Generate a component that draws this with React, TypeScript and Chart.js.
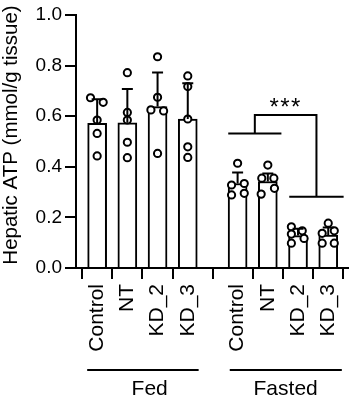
import React, { useEffect, useRef } from "react";
import { Chart, registerables } from "chart.js";

Chart.register(...registerables);

const FONT = '"Liberation Sans", Arial, sans-serif';

// Categories and their positions on the x axis (Fed group, gap, Fasted group)
const categories = ["Control", "NT", "KD_2", "KD_3", "Control", "NT", "KD_2", "KD_3"];
const categoryX = [0, 1, 2, 3, 4.65, 5.65, 6.65, 7.65];

// Bar means and SD (mmol/g tissue)
const means = [0.572, 0.574, 0.638, 0.589, 0.334, 0.342, 0.128, 0.13];
const sds = [0.095, 0.134, 0.135, 0.141, 0.043, 0.032, 0.027, 0.03];

// Individual points per category
const points = [
  [0.673, 0.655, 0.585, 0.532, 0.443],
  [0.772, 0.615, 0.585, 0.497, 0.436],
  [0.835, 0.675, 0.625, 0.621, 0.453],
  [0.759, 0.717, 0.589, 0.479, 0.437],
  [0.414, 0.334, 0.328, 0.295, 0.289],
  [0.407, 0.355, 0.355, 0.315, 0.292],
  [0.163, 0.147, 0.134, 0.117, 0.098],
  [0.177, 0.147, 0.137, 0.098, 0.098],
];
// horizontal spread of the points within a bar (x units)
const jitter = [
  [-0.22, 0.2, 0, 0, 0],
  [0, 0, 0, 0, 0],
  [0, 0, -0.22, 0.2, 0],
  [0, 0, 0, 0, 0],
  [0, 0.22, -0.2, 0.22, -0.2],
  [0, -0.2, 0.2, 0.22, -0.22],
  [-0.22, 0.14, -0.22, 0.2, -0.22],
  [0, 0.2, -0.2, -0.2, 0.2],
];

const yTicks = [0, 0.2, 0.4, 0.6, 0.8, 1.0];
const yTitle = "Hepatic ATP (mmol/g tissue)";

const groups = ["Fed", "Fasted"];
const groupSpan = [
  [-0.33, 3.36],
  [4.39, 8.1],
];
const groupLabelX = [1.74, 6.24];

// significance bracket
const bracketLeft = [4.34, 6.1];
const bracketLeftY = 0.532;
const bracketRight = [6.36, 8.16];
const bracketRightY = 0.282;
const bracketTopY = 0.605;
const sigLabel = "***";
const sigY = 0.65;

const overlay = {
  id: "overlay",
  afterDatasetsDraw(chart: any) {
    const { ctx, chartArea } = chart;
    const x = chart.scales.x;
    const y = chart.scales.y;
    ctx.save();
    ctx.strokeStyle = "#000";
    ctx.fillStyle = "#000";
    ctx.lineWidth = 2;
    ctx.lineCap = "butt";

    // error bars (upper only)
    means.forEach((m, i) => {
      const px = x.getPixelForValue(categoryX[i]);
      const y0 = y.getPixelForValue(m);
      const y1 = y.getPixelForValue(m + sds[i]);
      ctx.beginPath();
      ctx.moveTo(px, y0);
      ctx.lineTo(px, y1);
      ctx.moveTo(px - 5.5, y1);
      ctx.lineTo(px + 5.5, y1);
      ctx.stroke();
    });

    // bracket
    const lMid = (bracketLeft[0] + bracketLeft[1]) / 2;
    const rMid = (bracketRight[0] + bracketRight[1]) / 2;
    ctx.beginPath();
    ctx.moveTo(x.getPixelForValue(bracketLeft[0]), y.getPixelForValue(bracketLeftY));
    ctx.lineTo(x.getPixelForValue(bracketLeft[1]), y.getPixelForValue(bracketLeftY));
    ctx.moveTo(x.getPixelForValue(bracketRight[0]), y.getPixelForValue(bracketRightY));
    ctx.lineTo(x.getPixelForValue(bracketRight[1]), y.getPixelForValue(bracketRightY));
    ctx.moveTo(x.getPixelForValue(lMid), y.getPixelForValue(bracketLeftY));
    ctx.lineTo(x.getPixelForValue(lMid), y.getPixelForValue(bracketTopY));
    ctx.lineTo(x.getPixelForValue(rMid), y.getPixelForValue(bracketTopY));
    ctx.lineTo(x.getPixelForValue(rMid), y.getPixelForValue(bracketRightY));
    ctx.stroke();

    ctx.font = `24px ${FONT}`;
    ctx.textAlign = "center";
    ctx.textBaseline = "middle";
    try {
      (ctx as any).letterSpacing = "1.5px";
    } catch (e) {}
    ctx.fillText(sigLabel, x.getPixelForValue((lMid + rMid) / 2), y.getPixelForValue(sigY) + 5);
    try {
      (ctx as any).letterSpacing = "0px";
    } catch (e) {}

    // group lines and labels
    const lineY = chartArea.bottom + 102;
    groups.forEach((g, i) => {
      ctx.beginPath();
      ctx.moveTo(x.getPixelForValue(groupSpan[i][0]), lineY);
      ctx.lineTo(x.getPixelForValue(groupSpan[i][1]), lineY);
      ctx.stroke();
      ctx.font = `21px ${FONT}`;
      ctx.textAlign = "center";
      ctx.textBaseline = "alphabetic";
      ctx.fillText(g, x.getPixelForValue(groupLabelX[i]), chartArea.bottom + 127);
    });

    // y title
    ctx.save();
    ctx.translate(11, (chartArea.top + chartArea.bottom) / 2 - 6.5);
    ctx.rotate(-Math.PI / 2);
    ctx.font = `20.5px ${FONT}`;
    ctx.textAlign = "center";
    ctx.textBaseline = "middle";
    ctx.fillText(yTitle, 0, 0);
    ctx.restore();

    ctx.restore();
  },
};

export default function App() {
  const ref = useRef<HTMLCanvasElement>(null);
  useEffect(() => {
    if (!ref.current) return;
    const barData = categoryX.map((cx, i) => ({ x: cx, y: means[i] }));
    const scatterData: { x: number; y: number }[] = [];
    points.forEach((arr, i) =>
      arr.forEach((v, j) => scatterData.push({ x: categoryX[i] + jitter[i][j], y: v }))
    );
    const chart = new Chart(ref.current, {
      type: "bar",
      data: {
        datasets: [
          {
            type: "bar",
            data: barData as any,
            backgroundColor: "#fff",
            borderColor: "#000",
            borderWidth: 2,
            barThickness: 19,
            order: 2,
          } as any,
          {
            type: "scatter",
            data: scatterData as any,
            backgroundColor: "#fff",
            borderColor: "#000",
            borderWidth: 2,
            pointRadius: 3.6,
            showLine: false,
            order: 1,
          } as any,
        ],
      },
      options: {
        responsive: false,
        animation: false,
        devicePixelRatio: 1,
        layout: { padding: { top: 15, right: 8, left: 0, bottom: 0 } },
        plugins: { legend: { display: false }, tooltip: { enabled: false } },
        scales: {
          x: {
            type: "linear",
            min: -0.7,
            max: 8.29,
            offset: false,
            afterFit: (s: any) => {
              s.height = 127;
            },
            afterBuildTicks: (s: any) => {
              s.ticks = categoryX.map((v) => ({ value: v }));
            },
            grid: {
              display: true,
              drawOnChartArea: false,
              drawTicks: true,
              tickLength: 11,
              color: "#000",
              lineWidth: 2,
            },
            border: { display: true, color: "#000", width: 2 },
            ticks: {
              autoSkip: false,
              minRotation: 90,
              maxRotation: 90,
              padding: 5,
              color: "#000",
              font: { family: FONT, size: 21 },
              callback: (_v: any, i: number) => categories[i],
            },
          },
          y: {
            min: 0,
            max: 1,
            afterFit: (s: any) => {
              s.width = 76;
            },
            afterBuildTicks: (s: any) => {
              s.ticks = yTicks.map((v) => ({ value: v }));
            },
            grid: {
              display: true,
              drawOnChartArea: false,
              drawTicks: true,
              tickLength: 11,
              color: "#000",
              lineWidth: 2,
            },
            border: { display: true, color: "#000", width: 2 },
            ticks: {
              padding: 3,
              color: "#000",
              font: { family: FONT, size: 19 },
              callback: (v: any) => Number(v).toFixed(1),
            },
          },
        },
      } as any,
      plugins: [overlay],
    });
    return () => chart.destroy();
  }, []);
  return (
    <div style={{ position: "absolute", left: 0, top: 0, width: 359, height: 395, background: "#fff" }}>
      <canvas ref={ref} width={359} height={395} />
    </div>
  );
}
